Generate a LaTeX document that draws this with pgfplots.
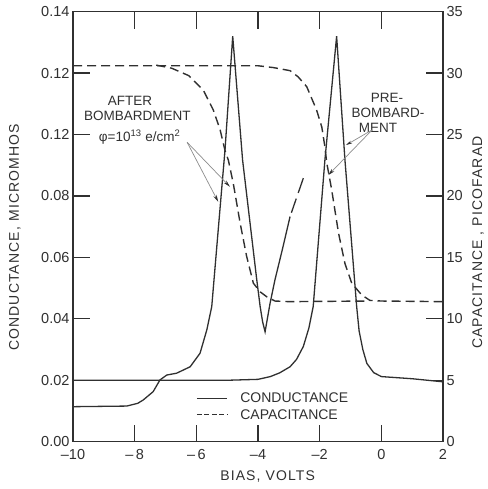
\documentclass[border=0pt]{standalone}
\usepackage{fontspec}
\setmainfont{Liberation Sans}
\newfontfamily\lab[LetterSpace=8]{Liberation Sans}
\usepackage{pgfplots}
\pgfplotsset{compat=1.18}
\usetikzlibrary{arrows.meta}
\definecolor{ink}{HTML}{303030}
\definecolor{arr}{HTML}{8C8C8C}

\pgfplotstableread{
x      g
-10    0.0200
-5     0.0200
-4     0.0203
-3.6   0.0212
-3.3   0.0224
-2.96  0.0244
-2.75  0.0268
-2.53  0.0310
-2.35  0.0370
-2.21  0.0440
-1.83  0.0917
-1.45  0.1320
-1.18  0.0917
-0.80  0.0440
-0.72  0.0360
-0.60  0.0300
-0.47  0.0255
-0.25  0.0225
0      0.0212
1      0.0205
2      0.0195
}\preG

\pgfplotstableread{
x      g
-10    0.0114
-8.26  0.0116
-7.9   0.0125
-7.72  0.0136
-7.4   0.0163
-7.18  0.0201
-6.96  0.0217
-6.64  0.0223
-6.2   0.0244
-5.88  0.0288
-5.66  0.0364
-5.50  0.0440
-5.29  0.0690
-5.07  0.0950
-4.82  0.1320
-4.50  0.0917
-4.04  0.0527
-3.93  0.0440
-3.85  0.0390
-3.77  0.0358
-3.61  0.0450
-3.45  0.0527
-3.20  0.0630
-2.96  0.0733
}\postG

\pgfplotstableread{
x      c
-10    30.60
-4.0   30.60
-3.5   30.45
-2.96  30.20
-2.70  29.70
-2.42  28.90
-2.10  27.00
-1.93  25.60
-1.83  24.00
-1.77  22.70
-1.61  20.50
-1.39  17.00
-1.18  14.50
-0.96  12.90
-0.64  11.95
-0.37  11.50
0      11.45
2      11.40
}\preC

\pgfplotstableread{
x      c
-7.3   30.65
-6.8   30.40
-6.25  29.80
-5.77  28.60
-5.45  27.00
-5.23  25.40
-5.07  23.70
-4.96  22.90
-4.80  21.00
-4.58  17.80
-4.37  15.10
-4.15  12.90
-3.93  12.20
-3.72  11.80
-3.45  11.45
-3.0   11.40
-0.40  11.45
}\postC

\tikzset{ann/.style={anchor=base, inner sep=0, font=\fontsize{13.5}{15}\selectfont, text=ink}}

\begin{document}
\begin{tikzpicture}
\pgfplotsset{
  base/.style={
    scale only axis, width=370pt, height=430pt,
    xmin=-10, xmax=2,
    tick align=inside, major tick length=17pt,
    every tick/.style={line width=1.3pt, ink},
    axis line style={line width=1.5pt, ink},
    tick label style={font=\fontsize{14.5}{16}\selectfont, text=ink},
    /pgf/number format/assume math mode=true,
  },
  curve/.style={ink, line width=1.3pt},
  dcurve/.style={ink, line width=1.4pt, dash pattern=on 9pt off 5pt},
}
\begin{axis}[base,
  ymin=0, ymax=0.14,
  xtick={-10,-8,-6,-4,-2,0,2},
  xticklabels={–10,–\,8,–\,6,–4,–2,0,2},
  xticklabel style={yshift=-4pt},
  ytick={0,0.02,0.04,0.06,0.08,0.10,0.12,0.14},
  yticklabels={0.00,0.02,0.04,0.06,0.08,0.12,0.12,0.14},
  ytick pos=left,
  xtick pos=both, xticklabel pos=lower,
  xlabel={BIAS, VOLTS},
  ylabel={CONDUCTANCE, MICROMHOS},
  every axis x label/.style={at={(axis description cs:0.526,-0.082)}, anchor=center,
    font=\lab\fontsize{14}{16}\selectfont, text=ink},
  every axis y label/.style={at={(axis description cs:-0.157,0.475)}, rotate=90, anchor=center,
    font=\lab\fontsize{14}{16}\selectfont, text=ink},
]
\addplot[curve] table[x=x, y=g] {\preG};
\addplot[curve] table[x=x, y=g] {\postG};
\addplot[ink, line width=1.3pt, dash pattern=on 0pt off 4pt on 15pt off 6pt on 20pt]
  coordinates {(-2.96,0.0733) (-2.53,0.0858)};

% legend
\draw[ink, line width=1.1pt] (axis cs:-5.98,0.0142) -- (axis cs:-5.0,0.0142);
\draw[ink, line width=1.1pt, dash pattern=on 5pt off 2.5pt] (axis cs:-5.98,0.0090) -- (axis cs:-5.0,0.0090);
\node[anchor=west, inner sep=0, font=\fontsize{14}{16}\selectfont, text=ink] at (axis cs:-4.58,0.0142) {CONDUCTANCE};
\node[anchor=west, inner sep=0, font=\fontsize{14}{16}\selectfont, text=ink] at (axis cs:-4.58,0.0088) {CAPACITANCE};

% annotations
\node[ann] at (axis cs:-8.15,0.1096) {AFTER};
\node[ann] at (axis cs:-7.91,0.1047) {BOMBARDMENT};
\node[ann] at (axis cs:-7.84,0.0976) {φ=10\textsuperscript{13} e/cm\textsuperscript{2}};
\draw[arr, line width=0.7pt, -{Stealth[length=7pt, width=3.5pt, ink]}] (axis cs:-6.30,0.0975) -- (axis cs:-5.29,0.0781);
\draw[arr, line width=0.7pt, -{Stealth[length=7pt, width=3.5pt, ink]}] (axis cs:-6.30,0.0975) -- (axis cs:-4.91,0.0830);
\node[ann] at (axis cs:0.185,0.1103) {PRE-};
\node[ann] at (axis cs:0.218,0.1054) {BOMBARD-};
\node[ann] at (axis cs:-0.107,0.1008) {MENT};
\draw[arr, line width=0.7pt, -{Stealth[length=6pt, width=3pt, ink]}] (axis cs:-0.30,0.1015) -- (axis cs:-1.14,0.0966);
\draw[arr, line width=0.7pt, -{Stealth[length=7pt, width=3.5pt, ink]}] (axis cs:-0.30,0.1015) -- (axis cs:-1.72,0.0868);
\end{axis}

\begin{axis}[base,
  ymin=0, ymax=35,
  axis x line=none, axis y line*=right,
  ytick={0,5,10,15,20,25,30,35},
  ylabel={CAPACITANCE , PICOFARAD},
  every axis y label/.style={at={(axis description cs:1.0946,0.463)}, rotate=90, anchor=center,
    font=\lab\fontsize{14}{16}\selectfont, text=ink},
]
\addplot[dcurve] table[x=x, y=c] {\preC};
\addplot[dcurve] table[x=x, y=c] {\postC};
\end{axis}

\pgfresetboundingbox
\path[use as bounding box] (-73pt,-47.3pt) rectangle (414pt,441.7pt);
\end{tikzpicture}
\end{document}
